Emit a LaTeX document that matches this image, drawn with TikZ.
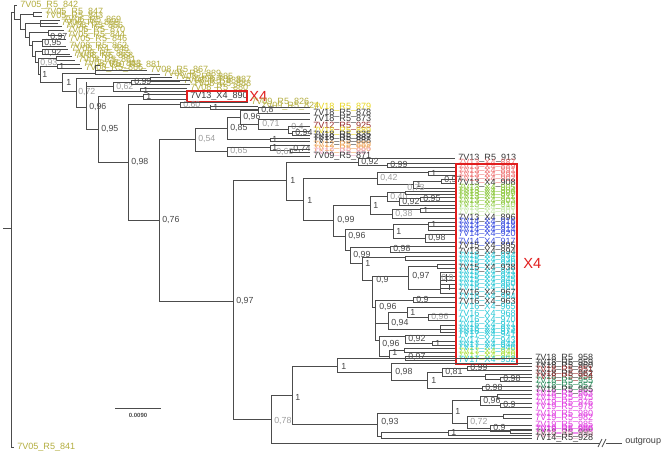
\documentclass[tikz,border=0pt]{standalone}
\usepackage{fontspec}
\setmainfont{Liberation Sans}
\definecolor{olv}{RGB}{180,174,64}
\definecolor{ylw}{RGB}{232,214,30}
\definecolor{org}{RGB}{240,165,90}
\definecolor{pnk}{RGB}{240,170,200}
\definecolor{drk}{RGB}{55,55,55}
\definecolor{dred}{RGB}{150,40,40}
\definecolor{lrd}{RGB}{240,120,120}
\definecolor{lgr}{RGB}{140,200,60}
\definecolor{pgr}{RGB}{200,235,170}
\definecolor{blu}{RGB}{60,80,225}
\definecolor{cyn}{RGB}{40,200,215}
\definecolor{lim}{RGB}{170,225,60}
\definecolor{dgr}{RGB}{40,140,90}
\definecolor{mag}{RGB}{225,60,225}
\definecolor{rbx}{RGB}{225,30,30}
\newcommand\tV[3]{\draw[br] (#1,#2) -- (#1,#3);}
\newcommand\tH[3]{\draw[br] (#1,#3) -- (#2,#3);}
\newcommand\tS[3]{\node[sv] at (#1,#2) {#3};}
\newcommand\tG[3]{\node[svg] at (#1,#2) {#3};}
\newcommand\tL[5]{\draw[br] (#1,#2) -- (#3,#2); \node[lf,text=#4] at ([xshift=2.25pt]#3,#2) {#5};}
\begin{document}
\begin{tikzpicture}[x=0.75pt,y=-0.75pt,
  br/.style={draw=black!70,line width=0.55pt},
  sv/.style={anchor=west,inner sep=0pt,font=\fontsize{6.6}{7}\selectfont,text=black!72},
  svg/.style={sv,text=black!38},
  lf/.style={anchor=west,inner sep=0pt,font=\fontsize{6.8}{7}\selectfont},
  redbox/.style={draw=rbx,line width=1.9pt},
  xfour/.style={anchor=west,inner sep=0pt,text=rbx,font=\fontsize{11}{12}\selectfont}]
\useasboundingbox (0,0) rectangle (661,454);
\fill[white] (0,0) rectangle (661,454);
% ---------- root and top olive cluster ----------
\tV{11}{12}{447} \tH{3}{11}{228} \tH{11}{14}{12}
\tL{11}{447}{14}{olv}{7V05\_R5\_841}
\tV{14}{5}{19}
\tL{14}{5}{17}{olv}{7V05\_R5\_842}
\tH{14}{20}{19} \tV{20}{14}{29}
\tH{20}{33}{14} \tV{33}{12}{16}
\tL{33}{12}{42}{olv}{7V05\_R5\_847}
\tL{33}{16}{42}{olv}{7V05\_R5\_843}
\tH{20}{25}{29} \tV{25}{23}{37}
\tH{25}{40}{23} \tV{40}{20}{26}
\tL{40}{20}{60}{olv}{7V06\_R5\_869}
\tL{40}{23}{58}{olv}{7V06\_R5\_868}
\tL{40}{26}{62}{olv}{7V06\_R5\_866}
\tH{25}{29}{37} \tV{29}{32}{45}
\tH{29}{48}{32} \tV{48}{30}{35}
\tL{48}{30}{64}{olv}{7V06\_R5\_870}
\tL{48}{35}{64}{olv}{7V05\_R5\_844}
\tS{50}{37}{0,97}
\tH{29}{32}{45} \tV{32}{41}{56}
\tH{32}{42}{41} \tV{42}{39}{46}
\tL{42}{39}{66}{olv}{7V05\_R5\_846}
\tL{42}{46}{66}{olv}{7V08\_R5\_862}
\tS{44}{43}{0,95}
\tH{32}{35}{56} \tV{35}{51}{62}
\tH{35}{42}{51} \tV{42}{49}{54}
\tL{42}{49}{68}{olv}{7V08\_R4\_848}
\tL{42}{54}{70}{olv}{7V08\_R5\_865}
\tS{44}{53}{0,92}
\tH{35}{38}{62} \tV{38}{58}{74}
\tH{38}{56}{58} \tV{56}{56}{60}
\tL{56}{56}{72}{olv}{7V08\_R5\_868}
\tL{56}{60}{75}{olv}{7V08\_R5\_861}
\tG{40}{63}{0,93}
\tH{38}{40}{74} \tV{40}{66}{82} \tS{42}{74}{1}
\tH{40}{57}{66} \tV{57}{64}{68}
\tL{57}{64}{80}{olv}{7V08\_R5\_863}
\tL{57}{68}{82}{olv}{7V08\_R5\_866}
\tS{59}{66}{1}
\tH{40}{62}{82} \tV{62}{73}{91} \tS{66}{82}{1}
\tH{62}{95}{73} \tV{95}{65}{74}
\tL{95}{65}{100}{olv}{7V10\_R5\_881}
\tL{95}{70}{147}{olv}{7V08\_R5\_867}
\tL{95}{74}{160}{olv}{7V08\_R5\_889}
\tH{62}{76}{91} \tV{76}{78}{107} \tG{78}{92}{0,72}
\tH{76}{150}{78} \tV{150}{77}{81}
\tL{150}{77}{172}{olv}{7V08\_R5\_885}
\tL{150}{81}{180}{olv}{7V08\_R5\_883}
\tH{76}{86}{107} \tV{86}{82}{129} \tS{89}{107}{0,96}
\tH{86}{113}{86} \tV{113}{82}{91} \tG{116}{87}{0,62}
\tH{113}{131}{82} \tV{131}{80}{84}
\tL{131}{80}{190}{olv}{7V08\_R5\_887}
\tL{131}{84}{190}{olv}{7V08\_R5\_888}
\tS{134}{82}{0,99}
\tH{113}{140}{91} \tV{140}{88}{91} \tS{143}{90}{1}
\tL{140}{88}{187}{olv}{7V08\_R5\_880}
\tH{140}{187}{91}
% ---------- backbone ----------
\tH{86}{98}{129} \tV{98}{96}{162} \tS{101}{129}{0,95}
\tH{98}{143}{96} \tV{143}{94}{99} \tS{146}{96.5}{1}
\tH{143}{187}{94} \tH{143}{187}{99}
\node[lf,text=drk] at (190,96.5) {7V13\_X4\_890};
\draw[redbox] (187,91) rectangle (247,102);
\node[xfour] at (249,96.5) {X4};
\tH{98}{128}{162} \tV{128}{104}{220} \tS{131}{162}{0,98}
\tH{128}{180}{104} \tV{180}{102}{107} \tG{183}{104.5}{0,60}
\tL{180}{102}{248}{olv}{7V09\_R5\_826}
\tH{180}{210}{107} \tV{210}{105}{109} \tS{213}{107}{1}
\tL{210}{106}{258}{olv}{7V09\_R5\_824}
\tH{210}{258}{109}
\tH{128}{159}{220} \tV{159}{139}{301} \tS{162}{220}{0,76}
\tH{159}{195}{139} \tV{195}{128}{151} \tG{198}{139}{0,54}
% ---------- 0,85 clade ----------
\tH{195}{227}{128} \tV{227}{117}{139} \tS{230}{128}{0,85}
\tH{227}{240}{117} \tV{240}{110}{124} \tS{243}{117}{0,96}
\tH{240}{258}{110} \tV{258}{107}{113} \tS{261}{110}{0,8}
\tL{258}{107}{310}{ylw}{7V18\_R5\_879}
\tL{258}{113}{310}{drk}{7V18\_R5\_878}
\tH{240}{258}{124} \tV{258}{119}{129} \tG{262}{124}{0,71}
\tL{258}{119}{310}{drk}{7V18\_R5\_873}
\tH{258}{288}{129} \tV{288}{126}{133} \tG{291}{127}{0,4}
\tL{288}{126}{310}{dred}{7V12\_R5\_925}
\tH{288}{292}{133} \tV{292}{131}{135} \tS{295}{133}{0,94}
\tL{292}{131}{310}{ylw}{7V18\_R5\_889}
\tL{292}{135}{310}{drk}{7V18\_R5\_835}
\tH{227}{270}{139} \tV{270}{138}{141} \tS{272}{139.5}{1}
\tL{270}{138}{310}{drk}{7V18\_R5\_887}
\tL{270}{141}{310}{drk}{7V12\_R5\_888}
% ---------- 0,65 clade ----------
\tH{195}{227}{151} \tV{227}{147}{156} \tG{230}{151}{0,65}
\tH{227}{270}{147} \tV{270}{145}{150} \tS{272}{147}{1}
\tL{270}{145}{310}{org}{7V12\_R5\_889}
\tH{270}{290}{150} \tV{290}{149}{152} \tS{293}{149}{0,74}
\tG{276}{152}{0,60}
\tL{290}{149}{310}{org}{7V12\_R5\_886}
\tL{290}{152}{310}{pnk}{7V12\_R5\_887}
\tL{227}{156}{310}{drk}{7V09\_R5\_871}
% ---------- 0,97 and X4 clade ----------
\tH{159}{233}{301} \tV{233}{180}{419} \tS{236}{301}{0,97}
\tH{233}{286}{180} \tV{286}{162}{200} \tS{290}{180}{1}
\tH{286}{358}{162} \tV{358}{158}{165} \tS{361}{162}{0,92}
\tL{358}{158}{455}{drk}{7V13\_R5\_913}
\tH{358}{387}{165} \tV{387}{163}{167} \tS{390}{165}{0,99}
\tL{387}{163}{455}{lrd}{7V13\_X4\_887}
\tL{387}{167}{455}{lrd}{7V13\_X4\_889}
\tH{286}{303}{200} \tV{303}{178}{220} \tS{307}{200}{1}
\tH{303}{377}{178} \tV{377}{172}{184} \tG{380}{178}{0,42}
\tH{377}{428}{172} \tV{428}{171}{175} \tS{431}{173}{1}
\tL{428}{171}{455}{lrd}{7V13\_X4\_891}
\tL{428}{175}{455}{lrd}{7V13\_X4\_893}
\tH{377}{413}{184} \tV{413}{181}{188} \tS{416}{184.5}{1}
\tH{413}{441}{181} \tV{441}{179}{183} \tS{444}{180}{0,97}
\tL{441}{179}{455}{lrd}{7V13\_X4\_902}
\tL{441}{183}{455}{drk}{7V13\_X4\_908}
\tL{413}{188}{455}{lgr}{7V13\_X4\_905}
\tH{303}{333}{220} \tV{333}{205}{236} \tS{337}{220}{0,99}
\tH{333}{370}{205} \tV{370}{196}{214} \tS{373}{205}{1}
\tH{370}{387}{196} \tV{387}{192}{201} \tG{390}{196.5}{0,40}
\tH{387}{405}{192} \tV{405}{191}{194} \tG{407}{187.5}{0,73}
\tL{405}{191}{455}{lgr}{7V13\_X4\_904}
\tL{405}{194}{455}{lgr}{7V13\_X4\_909}
\tH{387}{399}{201} \tV{399}{198}{205} \tS{402}{201.5}{0,92}
\tH{399}{420}{198} \tV{420}{197}{201} \tS{423}{199}{0,95}
\tL{420}{197}{455}{lgr}{7V13\_X4\_911}
\tL{420}{201}{455}{lgr}{7V13\_X4\_903}
\tL{399}{205}{455}{lgr}{7V13\_X4\_910}
\tH{370}{392}{214} \tV{392}{209}{218} \tG{395}{213.5}{0,38}
\tH{392}{420}{209} \tV{420}{208}{212} \tS{423}{210}{1}
\tL{420}{208}{455}{pgr}{7V13\_X4\_900}
\tL{420}{212}{455}{pgr}{7V13\_X4\_901}
\tL{392}{218}{455}{drk}{7V13\_X4\_896}
\tH{333}{345}{236} \tV{345}{229}{250} \tS{348}{236}{0,96}
\tH{345}{393}{229} \tV{393}{224}{238} \tS{396}{231}{1}
\tH{393}{428}{224} \tV{428}{222}{230} \tS{431}{224}{1}
\tL{428}{222}{455}{blu}{7V14\_X4\_916}
\tL{428}{226}{455}{blu}{7V14\_X4\_918}
\tL{428}{230}{455}{blu}{7V14\_X4\_914}
\tH{393}{425}{238} \tV{425}{234}{242} \tS{428}{238}{0,98}
\tL{425}{234}{455}{blu}{7V14\_X4\_920}
\tL{425}{242}{455}{blu}{7V14\_X4\_917}
\tH{345}{350}{250} \tV{350}{247}{263} \tS{353}{255}{0,99}
\tH{350}{390}{247} \tV{390}{246}{252} \tS{393}{249}{0,98}
\tL{390}{246}{455}{drk}{7V15\_X4\_895}
\tL{390}{252}{455}{drk}{7V13\_X4\_894}
\tH{350}{362}{263} \tV{362}{257}{280} \tS{365}{263}{1}
\tH{362}{405}{257} \tV{405}{256}{260}
\tL{405}{256}{455}{cyn}{7V15\_X4\_934}
\tL{405}{260}{455}{cyn}{7V15\_X4\_936}
\tH{362}{372}{280} \tV{372}{276}{307} \tS{376}{280}{0,9}
\tH{372}{408}{276} \tV{408}{266}{289} \tS{412}{276}{0,97}
\tH{408}{437}{266} \tV{437}{264}{268}
\tL{437}{264}{455}{cyn}{7V15\_X4\_940}
\tL{437}{268}{455}{drk}{7V15\_X4\_938}
\tH{408}{440}{289} \tV{440}{272}{293}
\tV{446}{274}{282} \tV{449}{284}{290}
\tL{440}{272}{455}{cyn}{7V15\_X4\_941}
\tL{440}{276}{455}{cyn}{7V15\_X4\_943}
\tL{440}{280}{455}{cyn}{7V15\_X4\_945}
\tL{440}{284}{455}{cyn}{7V16\_X4\_960}
\tL{440}{288}{455}{cyn}{7V16\_X4\_961}
\tL{440}{293}{455}{drk}{7V16\_X4\_967}
\tG{441}{278}{0,9}
\tH{372}{375}{307} \tV{375}{300}{340} \tS{379}{307}{0,96}
\tH{375}{413}{300} \tV{413}{297}{302} \tS{416}{299.5}{0,9}
\tL{413}{297}{455}{cyn}{7V16\_X4\_964}
\tL{413}{302}{455}{drk}{7V16\_X4\_963}
\tH{375}{388}{323} \tV{388}{312}{329} \tS{391}{323}{0,94}
\tH{388}{407}{312} \tV{407}{307}{317} \tS{410}{312}{1}
\tL{407}{307}{455}{cyn}{7V16\_X4\_965}
\tH{407}{428}{317} \tV{428}{314}{320} \tG{431}{317}{0,96}
\tL{428}{314}{455}{cyn}{7V16\_X4\_968}
\tL{428}{320}{455}{cyn}{7V16\_X4\_970}
\tH{388}{440}{329} \tV{440}{325}{332}
\tL{440}{325}{455}{cyn}{7V16\_X4\_971}
\tL{440}{329}{455}{cyn}{7V16\_X4\_973}
\tL{440}{332}{455}{cyn}{7V16\_X4\_974}
\tH{375}{379}{340} \tV{379}{336}{356} \tS{382}{344}{0,96}
\tH{379}{405}{336} \tV{405}{335}{343} \tS{408}{339}{0,92}
\tL{405}{335}{455}{cyn}{7V17\_X4\_941}
\tH{405}{432}{343} \tV{432}{341}{345} \tS{435}{343}{1}
\tL{432}{341}{455}{cyn}{7V17\_X4\_943}
\tL{432}{345}{455}{cyn}{7V17\_X4\_944}
\tH{379}{389}{356} \tV{389}{350}{358} \tS{392}{352}{1}
\tH{389}{404}{350} \tV{404}{348}{352}
\tL{404}{348}{455}{cyn}{7V17\_X4\_946}
\tL{404}{352}{455}{lim}{7V17\_X4\_948}
\tH{389}{405}{358} \tV{405}{356}{360} \tS{408}{357}{0,97}
\tL{405}{356}{455}{lim}{7V17\_X4\_949}
\tL{405}{360}{455}{cyn}{7V17\_X4\_952}
\draw[redbox] (456,164) rectangle (517,364);
\node[xfour] at (523,263) {X4};
% ---------- lower clade ----------
\tH{233}{271}{419} \tV{271}{395}{443} \tG{274}{421}{0,78}
\tH{271}{292}{395} \tV{292}{366}{424} \tS{295}{397}{1}
\tH{292}{337}{366} \tV{337}{358}{372} \tS{341}{366}{1}
\tL{337}{358}{532}{drk}{7V18\_R5\_958}
\tH{337}{391}{372} \tV{391}{363}{380} \tS{395}{372}{0,98}
\tL{391}{363}{532}{drk}{7V18\_R5\_959}
\tH{391}{427}{380} \tV{427}{372}{388} \tS{431}{380}{1}
\tH{427}{442}{372} \tV{442}{368}{376} \tS{445}{372}{0,81}
\tH{442}{467}{368} \tV{467}{366}{370} \tS{470}{368}{0,99}
\tL{467}{366}{532}{drk}{7V18\_R5\_960}
\tL{467}{370}{532}{dred}{7V18\_R5\_951}
\tH{442}{485}{376} \tV{485}{374}{379}
\tL{485}{374}{532}{drk}{7V18\_R5\_962}
\tH{485}{500}{379} \tV{500}{377}{381} \tS{503}{379}{0,98}
\tL{500}{377}{532}{dred}{7V18\_R5\_954}
\tL{500}{381}{532}{dgr}{7V18\_R5\_955}
\tH{427}{482}{388} \tV{482}{386}{390} \tS{485}{388}{0,98}
\tL{482}{386}{532}{dgr}{7V18\_R5\_957}
\tL{482}{390}{532}{drk}{7V18\_R5\_965}
\tH{292}{377}{424} \tV{377}{413}{436} \tS{381}{422}{0,93}
\tH{377}{452}{413} \tV{452}{400}{423} \tS{455}{411}{1}
\tH{452}{480}{400} \tV{480}{396}{405} \tS{483}{401}{0,96}
\tH{480}{497}{396} \tV{497}{394}{398}
\tL{497}{394}{532}{mag}{7V18\_R5\_963}
\tL{497}{398}{532}{mag}{7V19\_R5\_975}
\tH{480}{500}{405} \tV{500}{403}{407} \tS{503}{405}{0,9}
\tL{500}{403}{532}{mag}{7V19\_R5\_976}
\tL{500}{407}{532}{mag}{7V19\_R5\_978}
\tH{452}{467}{423} \tV{467}{416}{428} \tG{470}{422}{0,72}
\tH{467}{503}{416} \tV{503}{414}{418}
\tL{503}{414}{532}{mag}{7V19\_R5\_980}
\tL{503}{418}{532}{mag}{7V19\_R5\_982}
\tH{467}{490}{428} \tV{490}{425}{431} \tS{493}{428}{0,9}
\tL{490}{425}{532}{mag}{7V19\_R5\_985}
\tH{490}{510}{431} \tV{510}{429}{433}
\tL{510}{429}{532}{mag}{7V19\_R5\_986}
\tL{510}{433}{532}{drk}{7V18\_R5\_995}
\tH{377}{381}{436} \tV{381}{432}{438}
\tH{381}{448}{432} \tV{448}{430}{435} \tS{451}{432.5}{1}
\tL{448}{430}{532}{mag}{7V19\_R5\_990}
\tL{448}{435}{532}{pnk}{7V15\_R5\_939}
\tL{381}{438}{532}{drk}{7V14\_R5\_928}
% outgroup
\tH{271}{600}{443}
\draw[br] (598,447) -- (602,439) (602,447) -- (606,439);
\tH{606}{622}{443}
\node[lf,text=black!75] at (625,442) {outgroup};
% scale bar
\draw[br] (115,408) -- (161,408);
\node[inner sep=0pt,font=\fontsize{4.5}{5}\selectfont\bfseries,text=black!70] at (138,415) {0.0090};
\end{tikzpicture}
\end{document}
